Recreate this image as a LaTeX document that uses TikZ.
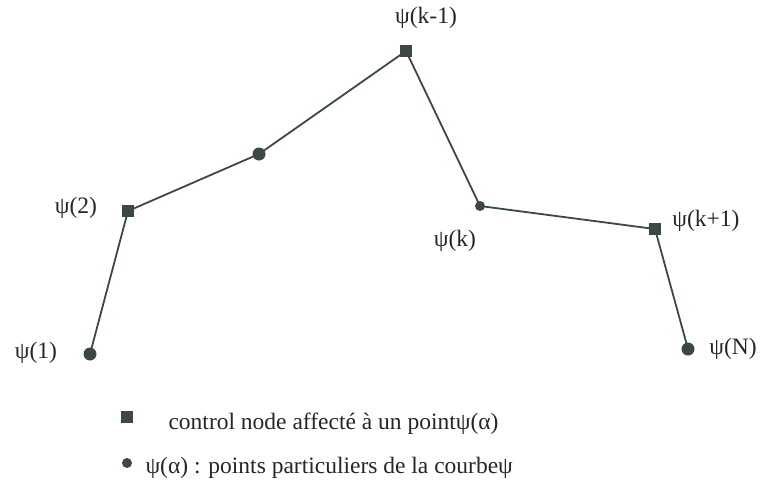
\documentclass[tikz,border=0pt]{standalone}
\usepackage{fontspec}
\setmainfont{Liberation Serif}
\definecolor{ink}{HTML}{3B4846}
\begin{document}
\begin{tikzpicture}[x=1pt, y=-1pt, font=\fontsize{23.5}{28}\selectfont,
    ctrl/.style={fill=ink, minimum size=12pt, inner sep=0pt},
    pt/.style={circle, fill=ink, minimum size=13pt, inner sep=0pt},
    lab/.style={text=black!85}]
\useasboundingbox (0,0) rectangle (763,491);
\node[pt] (p1) at (90,354) {};
\node[ctrl] (p2) at (128,211) {};
\node[pt] (pm) at (259,154) {};
\node[ctrl] (pkm) at (406,51) {};
\node[pt, minimum size=10pt] (pk) at (480,206) {};
\node[ctrl] (pkp) at (655,229) {};
\node[pt] (pN) at (688,349) {};
\draw[ink, line width=1.8pt] (p1.center)--(p2.center)--(pm.center)--(pkm.center)--(pk.center)--(pkp.center)--(pN.center);
\node[lab] at (36,353) {ψ(1)};
\node[lab] at (76,208) {ψ(2)};
\node[lab] at (426,18) {ψ(k-1)};
\node[lab] at (455,241) {ψ(k)};
\node[lab] at (706,221) {ψ(k+1)};
\node[lab] at (733,349) {ψ(N)};
% legende
\node[ctrl] (lc) at (127,417) {};
\node[lab, anchor=west] (lct) at (165,424) {control node affecté à un pointψ(α)};
\node[pt, minimum size=10pt] (lp) at (127,463) {};
\node[lab, anchor=west] (lpt) at (142,468) {ψ(α) : points particuliers de la courbeψ};
\end{tikzpicture}
\end{document}
